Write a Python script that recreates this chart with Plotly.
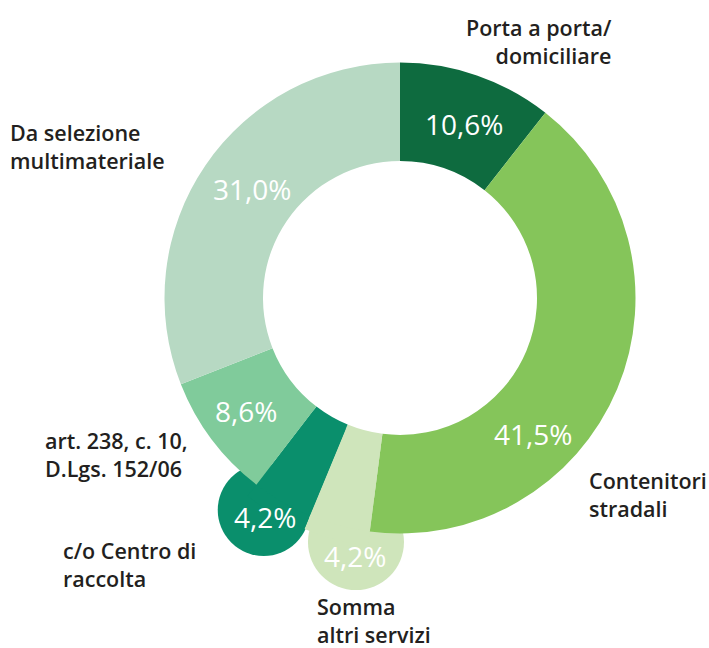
import math
import plotly.graph_objects as go

# ---- data ----
categories = [
    "Porta a porta/<br>domiciliare",
    "Contenitori<br>stradali",
    "Somma<br>altri servizi",
    "c/o Centro di<br>raccolta",
    "art. 238, c. 10,<br>D.Lgs. 152/06",
    "Da selezione<br>multimateriale",
]
values = [10.6, 41.5, 4.2, 4.2, 8.6, 31.0]

# ---- style ----
colors = ["#0e6b3f", "#85c55a", "#cfe5bb", "#0a8f6c", "#80cb9b", "#b7d9c3"]
capped = [False, False, True, True, False, False]
cap_radius = [0, 0, 48, 46, 0, 0]          # px
cap_dist = [0, 0, 248, 252, 0, 0]          # px from centre
cap_dangle = [0, 0, -4.7, 2.7, 0, 0]       # deg offset from slice mid-angle
pct_dist = [185, 190, 262, 257, 191, 184]
pct_dangle = [1.2, 23.0, -5.0, 1.6, 0.5, 2.2]
# category label placement (px): x, y(centre of block), anchor
label_pos = [
    (614, 42, "right"),
    (587, 495, "left"),
    (315, 620, "left"),
    (61, 564, "left"),
    (43, 454, "left"),
    (8, 146, "left"),
]

W, H = 709, 648
CX, CY = 400, 298
R_OUT, R_IN, R_EXT = 235.5, 137, 250
TEXT_COL = "#231f20"
FONT = "Open Sans"


def dom(r):
    return dict(x=[(CX - r) / W, (CX + r) / W], y=[1 - (CY + r) / H, 1 - (CY - r) / H])


def px2paper(x, y):
    return x / W, 1 - y / H


total = sum(values)
mids = []
acc = 0.0
for v in values:
    a0 = acc / total * 360
    acc += v
    a1 = acc / total * 360
    mids.append((a0 + a1) / 2)


def polar(ang, d):
    a = math.radians(ang)
    return CX + d * math.sin(a), CY - d * math.cos(a)


fig = go.Figure()
# extension wedges for the capped slices (beneath main ring)
fig.add_trace(go.Pie(
    labels=categories, values=values, sort=False, direction="clockwise", rotation=0,
    hole=(R_IN + 5) / R_EXT,
    marker=dict(colors=[c if cp else "rgba(0,0,0,0)" for c, cp in zip(colors, capped)],
                line=dict(width=0)),
    textinfo="none", hoverinfo="skip", showlegend=False, domain=dom(R_EXT),
))
fig.add_trace(go.Pie(
    labels=categories, values=values, sort=False, direction="clockwise", rotation=0,
    hole=R_IN / R_OUT,
    marker=dict(colors=colors, line=dict(width=0)),
    textinfo="none", hoverinfo="skip", showlegend=False, domain=dom(R_OUT),
))

shapes = []
annotations = []
for i, v in enumerate(values):
    if capped[i]:
        x, y = polar(mids[i] + cap_dangle[i], cap_dist[i])
        r = cap_radius[i]
        x0, y1 = px2paper(x - r, y - r)
        x1, y0 = px2paper(x + r, y + r)
        shapes.append(dict(type="circle", xref="paper", yref="paper", x0=x0, x1=x1, y0=y0, y1=y1,
                           fillcolor=colors[i], line=dict(width=0), layer="below"))
    tx, ty = polar(mids[i] + pct_dangle[i], pct_dist[i])
    px_, py_ = px2paper(tx, ty)
    annotations.append(dict(x=px_, y=py_, xref="paper", yref="paper", showarrow=False,
                            text=f"{v:.1f}%".replace(".", ","), xanchor="center", yanchor="middle",
                            font=dict(family=FONT, size=28, color="white")))
    lx, ly, anc = label_pos[i]
    qx, qy = px2paper(lx, ly)
    annotations.append(dict(x=qx, y=qy, xref="paper", yref="paper", showarrow=False,
                            text=categories[i], xanchor=anc, yanchor="middle", align=anc,
                            font=dict(family=FONT, size=21.5, color=TEXT_COL, weight=600)))

fig.update_layout(
    width=W, height=H, margin=dict(l=0, r=0, t=0, b=0),
    paper_bgcolor="white", plot_bgcolor="white",
    shapes=shapes, annotations=annotations,
)
fig.write_html("out.html", config={"displayModeBar": False},
               post_script="document.body.style.margin='0';")
